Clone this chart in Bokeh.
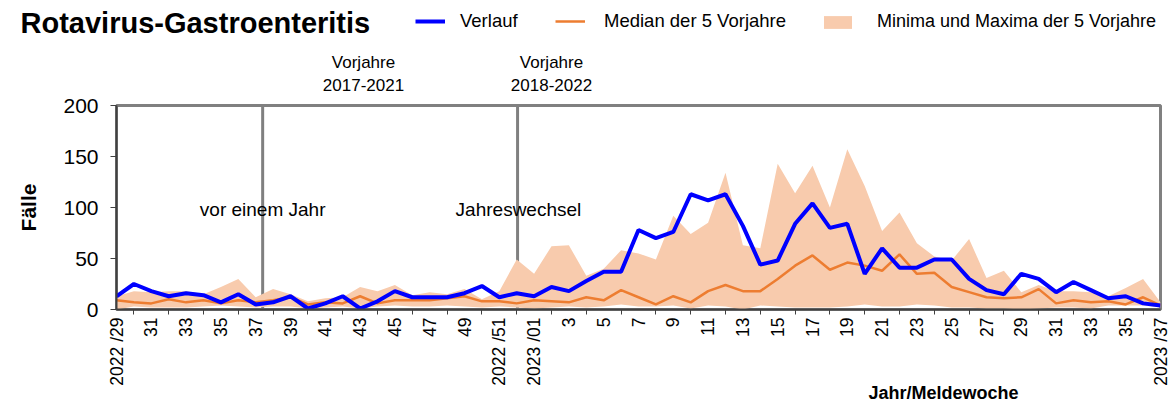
import numpy as np
from bokeh.plotting import figure
from bokeh.layouts import column
from bokeh.models import (Range1d, FixedTicker, Span, Label, Legend, LegendItem,
                          ColumnDataSource, Title)
from bokeh.embed import file_html
from bokeh.resources import INLINE

# ---------------- data ----------------
weeks = ["2022/29", "2022/30", "2022/31", "2022/32", "2022/33", "2022/34", "2022/35", "2022/36",
         "2022/37", "2022/38", "2022/39", "2022/40", "2022/41", "2022/42", "2022/43", "2022/44",
         "2022/45", "2022/46", "2022/47", "2022/48", "2022/49", "2022/50", "2022/51", "2022/52",
         "2023/01", "2023/02", "2023/03", "2023/04", "2023/05", "2023/06", "2023/07", "2023/08",
         "2023/09", "2023/10", "2023/11", "2023/12", "2023/13", "2023/14", "2023/15", "2023/16",
         "2023/17", "2023/18", "2023/19", "2023/20", "2023/21", "2023/22", "2023/23", "2023/24",
         "2023/25", "2023/26", "2023/27", "2023/28", "2023/29", "2023/30", "2023/31", "2023/32",
         "2023/33", "2023/34", "2023/35", "2023/36", "2023/37"]

verlauf = [13, 25, 18, 13, 16, 14, 7, 15, 5, 7, 13, 1, 6, 13, 1, 8,
           18, 12, 12, 12, 16, 23, 12, 16, 13, 22, 18, 28, 37, 37, 78, 70,
           76, 113, 107, 113, 82, 44, 48, 84, 104, 80, 84, 35, 60, 41,
           41, 49, 49, 30, 19, 15, 35, 30, 17, 27, 19, 11, 13, 6, 4]

median = [9, 7, 6, 10, 7, 9, 6, 9, 7, 9, 12, 5, 7, 6, 13, 6,
          9, 9, 9, 11, 13, 8, 8, 6, 9, 8, 7, 12, 9, 19, 12, 5,
          13, 7, 18, 24, 18, 18, 30, 43, 53, 39, 46, 43, 38, 54,
          35, 36, 22, 17, 12, 11, 12, 20, 6, 9, 7, 8, 5, 12, 4]

minimum = [0, 3, 2, 2, 2, 3, 4, 3, 2, 3, 3, 1, 2, 3, 1, 3,
           4, 3, 3, 4, 3, 2, 3, 2, 1, 2, 3, 2, 3, 5, 3, 3,
           4, 1, 4, 3, 0, 4, 3, 2, 2, 2, 3, 5, 3, 3,
           5, 4, 2, 2, 1, 1, 0, 1, 2, 2, 1, 4, 4, 4, 2]

maximum = [13, 18, 17, 18, 18, 15, 22, 30, 12, 20, 15, 8, 11, 12, 22, 18,
           24, 14, 17, 15, 20, 10, 18, 49, 35, 62, 63, 33, 40, 58, 55, 49,
           92, 74, 85, 134, 63, 60, 143, 114, 141, 100, 157, 121, 77, 95,
           65, 52, 48, 69, 31, 38, 17, 24, 18, 18, 17, 13, 21, 30, 7]

tick_labels = ["2022 /29", "31", "33", "35", "37", "39", "41", "43", "45", "47", "49",
               "2022 /51", "2023 /01", "3", "5", "7", "9", "11", "13", "15", "17", "19",
               "21", "23", "25", "27", "29", "31", "33", "35", "2023 /37"]

y_ticks = [0, 50, 100, 150, 200]

# ---------------- styles ----------------
FONT = "Liberation Sans"
BLUE = "#0000FF"
ORANGE = "#ED7D31"
PEACH = "#F8CBAD"
W = 1176
HEAD_H = 93
MAIN_H = 312

# ---------------- header (title, legend, period notes) ----------------
head = figure(width=W, height=HEAD_H, output_backend="svg", toolbar_location=None,
              x_range=Range1d(0, W), y_range=Range1d(HEAD_H, 0),
              x_axis_type=None, y_axis_type=None, frame_align=False,
              min_border_left=0, min_border_right=0, min_border_top=0, min_border_bottom=0)
head.outline_line_color = None
head.xgrid.visible = False
head.ygrid.visible = False

nan = float("nan")
empty = ColumnDataSource(dict(x=[nan], y=[nan], y1=[nan], y2=[nan]))
h_ver = head.line(x="x", y="y", source=empty, line_color=BLUE, line_width=4)
h_med = head.line(x="x", y="y", source=empty, line_color=ORANGE, line_width=2.5)
h_band = head.varea(x="x", y1="y1", y2="y2", source=empty, fill_color=PEACH)

def hlab(xv, yv, txt, size, bold=False, align="center"):
    head.add_layout(Label(x=xv, y=yv, text=txt, text_font=FONT, text_font_size=size,
                          text_font_style="bold" if bold else "normal", text_align=align,
                          text_baseline="middle", text_color="black"))

hlab(20, 22, "Rotavirus-Gastroenteritis", "29px", bold=True, align="left")
hlab(363, 62, "Vorjahre", "17px")
hlab(363, 84, "2017-2021", "17px")
hlab(551, 62, "Vorjahre", "17px")
hlab(551, 84, "2018-2022", "17px")

def leg(renderer, text, xpos, gw, gh, standoff, size):
    lg = Legend(items=[LegendItem(label=text, renderers=[renderer])],
                location=(xpos, HEAD_H - 32),
                orientation="horizontal", glyph_width=gw, glyph_height=gh,
                label_standoff=standoff, padding=0, margin=0, spacing=0,
                border_line_alpha=0, background_fill_alpha=0,
                label_text_font=FONT, label_text_font_size=size, label_height=20,
                label_text_color="black")
    head.add_layout(lg)

leg(h_ver, "Verlauf", 415, 30, 20, 15, "18.5px")
leg(h_med, "Median der 5 Vorjahre", 555, 30, 20, 19, "18.5px")
leg(h_band, "Minima und Maxima der 5 Vorjahre", 820, 35, 16, 22, "18px")

# ---------------- main chart ----------------
x = list(range(len(weeks)))
src = ColumnDataSource(dict(x=x, verlauf=verlauf, median=median, lo=minimum, hi=maximum))

p = figure(width=W, height=MAIN_H, output_backend="svg", toolbar_location=None,
           x_range=Range1d(0, len(weeks) - 1), y_range=Range1d(0, 200), frame_align=False,
           min_border_left=116, min_border_right=16, min_border_top=12, min_border_bottom=96)

p.xgrid.visible = False
p.ygrid.visible = False
p.outline_line_color = "#808080"
p.outline_line_width = 3

for loc in (8.4, 23.05):
    p.add_layout(Span(location=loc, dimension="height", line_color="#808080",
                      line_width=3, level="underlay"))

band = p.varea(x="x", y1="lo", y2="hi", source=src, fill_color=PEACH)
med = p.line(x="x", y="median", source=src, line_color=ORANGE, line_width=2.5)
ver = p.line(x="x", y="verlauf", source=src, line_color=BLUE, line_width=4)

# y axis
p.yaxis.ticker = FixedTicker(ticks=y_ticks)
p.yaxis.major_label_text_font = FONT
p.yaxis.major_label_text_font_size = "21px"
p.yaxis.major_label_text_color = "black"
p.yaxis.major_tick_out = 6
p.yaxis.major_tick_in = 0
p.yaxis.minor_tick_line_color = None
p.yaxis.axis_line_color = "#404040"
p.yaxis.axis_line_width = 2
p.yaxis.major_tick_line_color = "#404040"
p.yaxis.major_label_standoff = 12
p.yaxis.axis_label = "Fälle"
p.yaxis.axis_label_text_font = FONT
p.yaxis.axis_label_text_font_size = "21px"
p.yaxis.axis_label_text_font_style = "bold"
p.yaxis.axis_label_text_color = "black"
p.yaxis.axis_label_standoff = 20

# x axis
tick_pos = list(range(0, len(weeks), 2))
p.xaxis.ticker = FixedTicker(ticks=tick_pos, minor_ticks=[t + 1 for t in tick_pos[:-1]])
p.xaxis.major_label_overrides = {t: lab for t, lab in zip(tick_pos, tick_labels)}
p.xaxis.major_label_orientation = np.pi / 2
p.xaxis.major_label_text_font = FONT
p.xaxis.major_label_text_font_size = "17.5px"
p.xaxis.major_label_text_color = "black"
p.xaxis.major_tick_out = 0
p.xaxis.major_tick_in = 0
p.xaxis.minor_tick_out = 5
p.xaxis.minor_tick_in = 0
p.xaxis.minor_tick_line_color = "#404040"
p.xaxis.axis_line_color = "#404040"
p.xaxis.axis_line_width = 2
p.xaxis.major_label_standoff = 3

p.add_layout(Title(text="Jahr/Meldewoche", align="left", offset=752, standoff=-16,
                   text_font=FONT, text_font_size="18px", text_font_style="bold",
                   text_color="black"), "below")

def lab(xv, yv, txt, size):
    p.add_layout(Label(x=xv, y=yv, text=txt, text_font=FONT, text_font_size=size,
                       text_align="center", text_baseline="middle", text_color="black"))

lab(8.4, 98, "vor einem Jahr", "19px")
lab(23.1, 98, "Jahreswechsel", "19px")

layout = column(head, p, spacing=0)
open("out.html", "w").write(file_html(layout, INLINE))
